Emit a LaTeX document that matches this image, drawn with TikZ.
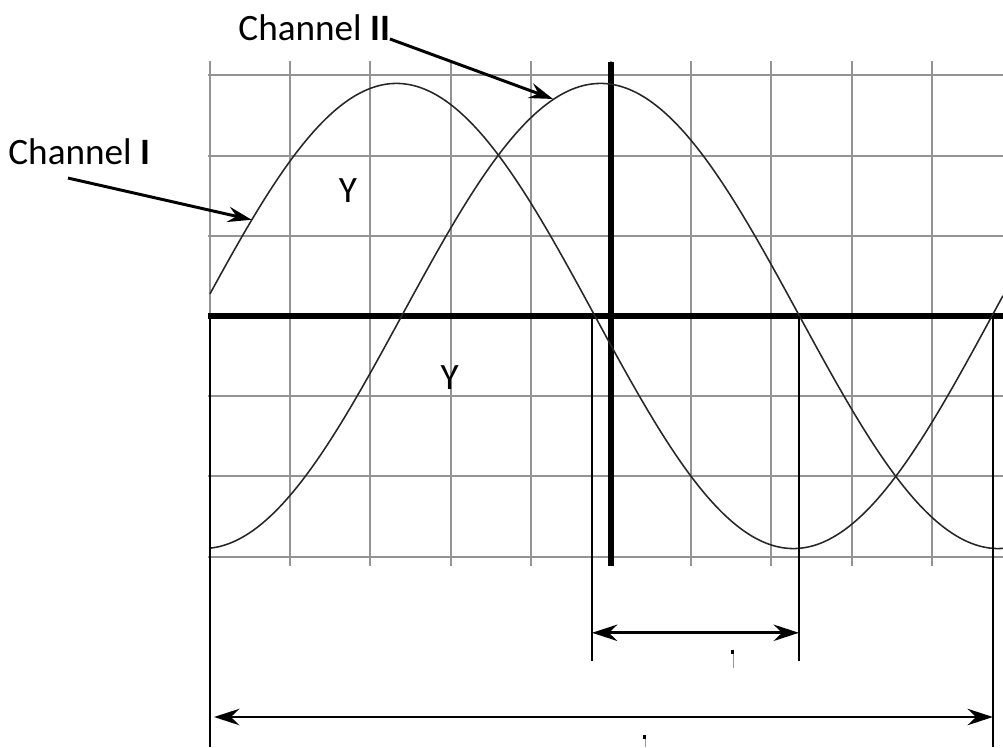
\documentclass[tikz,border=0pt]{standalone}
\usepackage{fontspec}
\setmainfont{Carlito}
\usetikzlibrary{arrows.meta}

\begin{document}
\begin{tikzpicture}[line width=0.8pt,>=Stealth,font=\fontsize{13.2}{16}\selectfont]
\tikzset{gridline/.style={line width=0.7pt,black!42},
  axisline/.style={line width=1.8pt},
  trace/.style={line width=0.55pt,black!85,smooth,samples=120},
  dimline/.style={line width=0.7pt},
  dimarrow/.style={line width=1.05pt,{Stealth[length=9pt,width=5.8pt,inset=3pt]}-{Stealth[length=9pt,width=5.8pt,inset=3pt]}},
  pointer/.style={line width=1.05pt,-{Stealth[length=8.5pt,width=5.5pt,inset=3pt]}}}
\useasboundingbox (-2.618,-5.374) rectangle (9.888,3.940);
% ---------- screen grid, 1 division = 1 unit ----------
\foreach \x in {0,...,9}
  \draw[gridline] (\x,-3.12) -- (\x,3.18);
\foreach \y in {-3,...,3}
  \draw[gridline] (-0.025,\y) -- (9.888,\y);
\draw[axisline] (-0.025,0) -- (9.888,0);   % time axis
\draw[axisline] (5,-3.12) -- (5,3.17);     % centre line
% ---------- the two traces ----------
\draw[trace,domain=0:9.888] plot (\x,{2.9*sin(360*(\x+0.15)/9.9)});    % channel I
\draw[trace,domain=0:9.888] plot (\x,{2.9*sin(360*(\x-2.39)/9.92)});   % channel II
\node (ylabA) at (1.72,1.57) {Y};
\node (ylabB) at (2.99,-0.77) {Y};
% ---------- labels with pointers ----------
\node (chI) at (-1.63,2.05) {Channel \textbf{I}};
\node (chII) at (1.30,3.60) {Channel \textbf{II}};
\coordinate (tailI) at (-1.77,1.72);
\coordinate (tipI) at (0.52,1.20);
\coordinate (tailII) at (2.244,3.454);
\coordinate (tipII) at (4.277,2.706);
\draw[pointer] (tailI) -- (tipI);
\draw[pointer] (tailII) -- (tipII);
% ---------- measuring lines below the screen ----------
\coordinate (zA) at (0,0);
\coordinate (zB) at (4.763,0);
\coordinate (zC) at (7.344,0);
\coordinate (zD) at (9.763,0);
\draw[dimline] (zA) -- ++(0,-5.374) coordinate (zAe);
\draw[dimline] (zB) -- ++(0,-4.30) coordinate (zBe);
\draw[dimline] (zC) -- ++(0,-4.30) coordinate (zCe);
\draw[dimline] (zD) -- ++(0,-5.374) coordinate (zDe);
\draw[dimarrow] (4.763,-3.95) -- (7.344,-3.95);   % shift
\draw[dimarrow] (0.05,-5.0) -- (9.763,-5.0);      % period
% leftovers of the cut labels
\fill (6.50,-4.17) rectangle (6.54,-4.21);
\draw[line width=0.25pt,black!40] (6.53,-4.21) -- (6.53,-4.39);
\fill (5.40,-5.23) rectangle (5.44,-5.27);
\draw[line width=0.25pt,black!40] (5.43,-5.27) -- (5.43,-5.374);
\end{tikzpicture}
\end{document}
